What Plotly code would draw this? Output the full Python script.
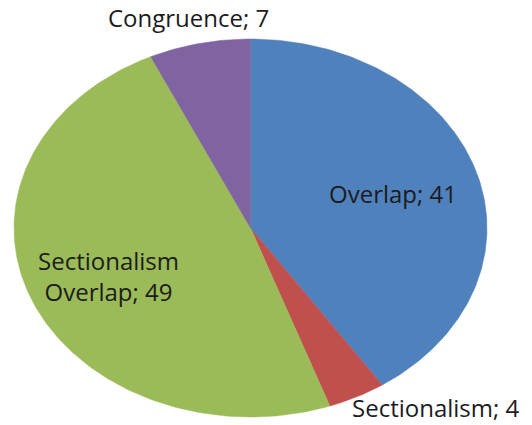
import numpy as np
import plotly.graph_objects as go

# ---- data ----
labels = ["Overlap", "Sectionalism", "Sectionalism<br>Overlap", "Congruence"]
values = [41, 4, 49, 7]
colors = ["#4F81BD", "#C0504D", "#9BBB59", "#8064A2"]

# label anchor positions (pixels in 532x425 canvas)
label_px = [(393, 193), (436, 407), (108, 276), (188, 17)]

W, H = 532, 425
cx_px, cy_px, rx_px, ry_px = 250.5, 228.0, 236.5, 189.0

fig = go.Figure()
total = float(sum(values))
start = 0.0
for lab, val, col in zip(labels, values, colors):
    a0 = start / total * 2 * np.pi
    a1 = (start + val) / total * 2 * np.pi
    t = np.linspace(a0, a1, max(int(val * 4), 8))
    xs = np.concatenate([[0.0], np.sin(t), [0.0]])
    ys = np.concatenate([[0.0], np.cos(t), [0.0]])
    fig.add_trace(go.Scatter(x=xs, y=ys, mode="lines", fill="toself",
                             fillcolor=col, line=dict(color=col, width=0.5),
                             hoverinfo="text", text=f"{lab}; {val}",
                             showlegend=False))
    start += val

for (lab, val), (px, py) in zip(zip(labels, values), label_px):
    fig.add_annotation(x=px / W, y=1 - py / H, xref="paper", yref="paper",
                       text=f"{lab}; {val}", showarrow=False,
                       font=dict(family="Open Sans", size=24, color="#1c1c1c"),
                       align="center", xanchor="center", yanchor="middle")

fig.update_layout(
    width=W, height=H,
    margin=dict(l=0, r=0, t=0, b=0),
    paper_bgcolor="white", plot_bgcolor="white",
    xaxis=dict(range=[-cx_px / rx_px, (W - cx_px) / rx_px], visible=False,
               fixedrange=True),
    yaxis=dict(range=[-(H - cy_px) / ry_px, cy_px / ry_px], visible=False,
               fixedrange=True),
)

fig.write_html("out.html")
